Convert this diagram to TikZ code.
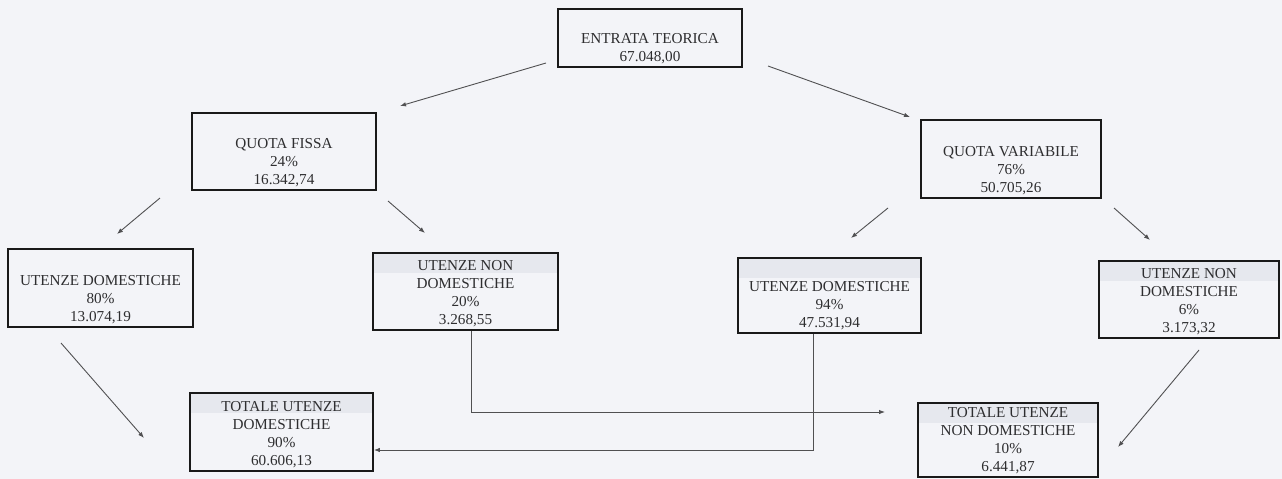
\documentclass[tikz,border=0pt]{standalone}
\usepackage{fontspec}
\setmainfont{Liberation Serif}
\usetikzlibrary{arrows.meta}
\definecolor{paper}{HTML}{F3F4F8}
\definecolor{band}{HTML}{E6E8EE}
\definecolor{ink}{HTML}{2E2E30}
\definecolor{wire}{HTML}{505052}
\tikzset{
  box/.style={draw=black!90, line width=1.8pt, rectangle, inner sep=0pt},
  txt/.style={align=center, inner sep=0pt, anchor=south, text=ink,
    font=\fontsize{15.2}{18}\selectfont},
  conn/.style={draw=wire, line width=0.9pt, -{Latex[length=6pt,width=4.5pt]}},
}
\newcommand{\mybox}[6]{% name, x1, x2, y1, y2, text
  \node[box, minimum width=#3-#2, minimum height=#5-#4] (#1) at ({(#2+#3)/2},{(#4+#5)/2}) {};
  \node[txt] (#1-t) at ([yshift=4]#1.south) {#6};
}
\newcommand{\myboxband}[6]{% with header band
  \fill[band] (#2,#4) rectangle (#3,#4+20);
  \mybox{#1}{#2}{#3}{#4}{#5}{#6}
}
\begin{document}
\begin{tikzpicture}[x=1pt,y=-1pt]
\fill[paper] (0,0) rectangle (1282,479);
\useasboundingbox (0,0) rectangle (1282,479);

\mybox{et}{558}{742}{9}{67}{ENTRATA TEORICA\\67.048,00}
\mybox{qf}{192}{376}{113}{190}{QUOTA FISSA\\24\%\\16.342,74}
\mybox{qv}{921}{1101}{120}{198}{QUOTA VARIABILE\\76\%\\50.705,26}
\mybox{udl}{8}{193}{249}{327}{UTENZE DOMESTICHE\\80\%\\13.074,19}
\myboxband{undl}{373}{558}{253}{330}{UTENZE NON\\DOMESTICHE\\20\%\\3.268,55}
\myboxband{udr}{738}{921}{258}{333}{UTENZE DOMESTICHE\\94\%\\47.531,94}
\myboxband{undr}{1099}{1279}{261}{338}{UTENZE NON\\DOMESTICHE\\6\%\\3.173,32}
\myboxband{totd}{190}{373}{393}{471}{TOTALE UTENZE\\DOMESTICHE\\90\%\\60.606,13}
\myboxband{totn}{918}{1098}{403}{477}{TOTALE UTENZE\\NON DOMESTICHE\\10\%\\6.441,87}

% free ends of connectors
\coordinate (a1s) at (546,63);   \coordinate (a1e) at (400,106);
\coordinate (a2s) at (768,66);   \coordinate (a2e) at (910,117);
\coordinate (a3s) at (160,198);  \coordinate (a3e) at (117,234);
\coordinate (a4s) at (388,201);  \coordinate (a4e) at (425,233);
\coordinate (a5s) at (888,208);  \coordinate (a5e) at (851,238);
\coordinate (a6s) at (1114,208); \coordinate (a6e) at (1150,240);
\coordinate (a7s) at (61,343);   \coordinate (a7e) at (144,438);
\coordinate (a8e) at (885,412);
\coordinate (a10s) at (1199,350); \coordinate (a10e) at (1118,447);

\draw[conn] (a1s) -- (a1e);
\draw[conn] (a2s) -- (a2e);
\draw[conn] (a3s) -- (a3e);
\draw[conn] (a4s) -- (a4e);
\draw[conn] (a5s) -- (a5e);
\draw[conn] (a6s) -- (a6e);
\draw[conn] (a7s) -- (a7e);
\draw[conn] (undl.south -| 471,0) |- (a8e);
\draw[conn] (udr.south -| 813,0) |- (0,450 -| totd.east);
\draw[conn] (a10s) -- (a10e);
\end{tikzpicture}
\end{document}
